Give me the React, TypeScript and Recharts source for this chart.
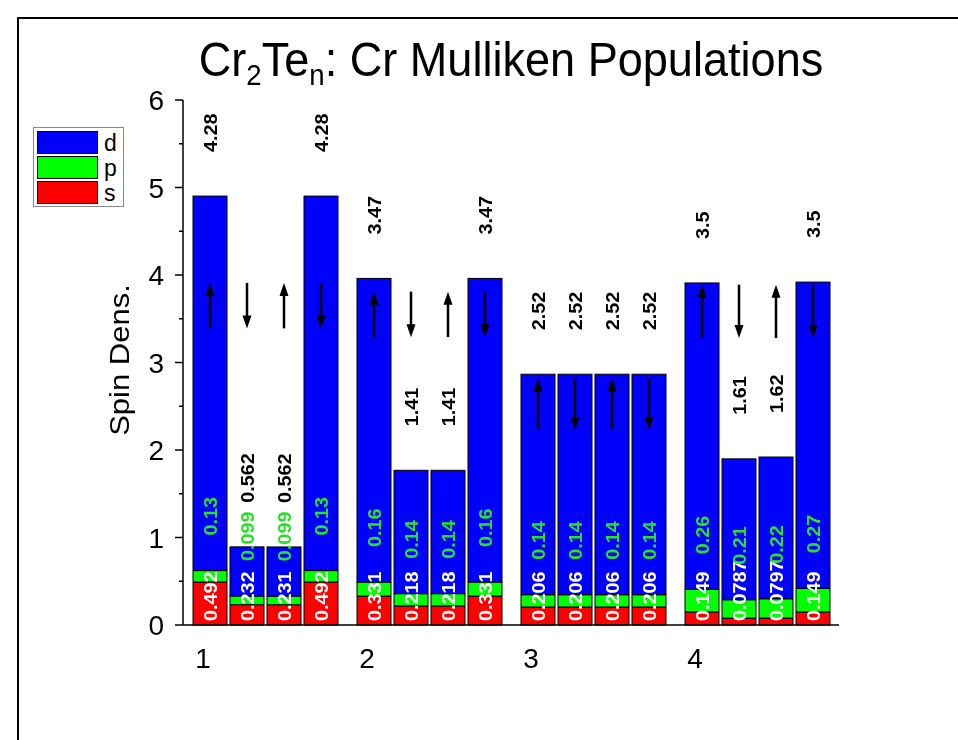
import React from "react";
import { BarChart, Bar, XAxis, YAxis } from "recharts";

// cluster size n
const groups = ["1", "2", "3", "4"];

// Mulliken populations of the 4 Cr sites, per cluster
const sPop = [
  [0.492, 0.232, 0.231, 0.492],
  [0.331, 0.218, 0.218, 0.331],
  [0.206, 0.206, 0.206, 0.206],
  [0.149, 0.0787, 0.0797, 0.149],
];
const pPop = [
  [0.13, 0.099, 0.099, 0.13],
  [0.16, 0.14, 0.14, 0.16],
  [0.14, 0.14, 0.14, 0.14],
  [0.26, 0.21, 0.22, 0.27],
];
const dPop = [
  [4.28, 0.562, 0.562, 4.28],
  [3.47, 1.41, 1.41, 3.47],
  [2.52, 2.52, 2.52, 2.52],
  [3.5, 1.61, 1.62, 3.5],
];

// spin arrows: direction per site, vertical extent per cluster (data units)
const spin = ["up", "down", "up", "down"];
const arrowHi = [3.91, 3.81, 2.82, 3.89];
const arrowLo = [3.39, 3.29, 2.23, 3.28];

const yTicks = [0, 0.5, 1, 1.5, 2, 2.5, 3, 3.5, 4, 4.5, 5, 5.5, 6];

const data = groups.map((g, gi) => {
  const row: any = { group: g, arrowHi: arrowHi[gi], arrowLo: arrowLo[gi] };
  for (let i = 0; i < 4; i++) {
    row[`s${i}`] = sPop[gi][i];
    row[`p${i}`] = pPop[gi][i];
    row[`d${i}`] = dPop[gi][i];
  }
  return row;
});

const FONT = '"Liberation Sans", Arial, sans-serif';
const BLUE = "#0000ff";
const GREEN = "#00ff00";
const RED = "#ff0000";

const lbl = {
  fontFamily: FONT,
  fontSize: 18,
  fontWeight: 700,
} as const;

// top segment draws itself plus all value labels and the spin arrow
const makeDShape = (pos: number) => (props: any) => {
  const { x, y, width, height, payload } = props;
  const s = payload[`s${pos}`];
  const p = payload[`p${pos}`];
  const d = payload[`d${pos}`];
  const k = height / d;
  const pTop = y + height;
  const zero = pTop + (s + p) * k;
  const cx = x + width / 2;
  const tx = cx + 6.5;
  const up = spin[pos] === "up";
  const hi = zero - payload.arrowHi * k;
  const lo = zero - payload.arrowLo * k;
  const tip = up ? hi : lo;
  const tail = up ? lo : hi;
  const dir = up ? 1 : -1;
  const rot = "rotate(-90) scale(1.1,1)";
  return (
    <g>
      <rect x={x} y={y} width={width} height={height} fill={BLUE} stroke="#000" strokeWidth={1} />
      <text transform={`translate(${tx},${zero - 4}) ${rot}`} fill="#fff" {...lbl}>
        {String(s)}
      </text>
      <text transform={`translate(${tx},${pTop - 35}) ${rot}`} fill="#2be02b" {...lbl}>
        {String(p)}
      </text>
      <text transform={`translate(${tx},${y - 44}) ${rot}`} fill="#000" {...lbl}>
        {String(d)}
      </text>
      <line x1={cx} x2={cx} y1={tail} y2={tip + dir * 10} stroke="#000" strokeWidth={2.5} />
      <polygon
        points={`${cx},${tip} ${cx - 4.5},${tip + dir * 13} ${cx + 4.5},${tip + dir * 13}`}
        fill="#000"
      />
    </g>
  );
};

const YTick = (props: any) => {
  const { x, y, payload } = props;
  const major = Number.isInteger(payload.value);
  return (
    <g>
      <line x1={x} x2={x - (major ? 8 : 4)} y1={y} y2={y} stroke="#000" strokeWidth={1.5} />
      {major && (
        <text x={x - 19} y={y} dy={10} textAnchor="end" fontFamily={FONT} fontSize={28} fill="#000">
          {payload.value}
        </text>
      )}
    </g>
  );
};

const XTick = (props: any) => {
  const { x, y, payload } = props;
  return (
    <text x={x - 62} y={y} dy={43} textAnchor="middle" fontFamily={FONT} fontSize={28} fill="#000">
      {payload.value}
    </text>
  );
};

const legendItems = [
  { key: "d", color: BLUE },
  { key: "p", color: GREEN },
  { key: "s", color: RED },
];

export default function App() {
  const bars: React.ReactNode[] = [];
  for (let i = 0; i < 4; i++) {
    bars.push(
      <Bar key={`s${i}`} dataKey={`s${i}`} stackId={`c${i}`} fill={RED} stroke="#000" strokeWidth={1} isAnimationActive={false} />,
      <Bar key={`p${i}`} dataKey={`p${i}`} stackId={`c${i}`} fill={GREEN} stroke="#000" strokeWidth={1} isAnimationActive={false} />,
      <Bar key={`d${i}`} dataKey={`d${i}`} stackId={`c${i}`} fill={BLUE} shape={makeDShape(i)} isAnimationActive={false} />
    );
  }

  return (
    <div style={{ position: "relative", width: 942, height: 724, background: "#fff", fontFamily: FONT }}>
      <div
        style={{
          position: "fixed",
          left: 17,
          top: 17,
          width: 2000,
          height: 2000,
          borderTop: "2px solid #000",
          borderLeft: "2px solid #000",
        }}
      />
      <div
        style={{
          position: "absolute",
          left: 113,
          width: 780,
          top: 27,
          textAlign: "center",
          fontSize: 49,
          lineHeight: "49px",
          color: "#000",
          whiteSpace: "nowrap",
          transform: "scaleX(0.92)",
        }}
      >
        Cr<sub style={{ fontSize: 30, verticalAlign: -9, lineHeight: 0 }}>2</sub>Te
        <sub style={{ fontSize: 30, verticalAlign: -9, lineHeight: 0 }}>n</sub>: Cr Mulliken Populations
      </div>
      <div
        style={{
          position: "absolute",
          left: 112,
          top: 352,
          transform: "translate(-50%, -50%) rotate(-90deg) scale(1, 0.92)",
          fontSize: 31,
          whiteSpace: "nowrap",
          color: "#000",
        }}
      >
        Spin Dens.
      </div>
      <BarChart
        width={942}
        height={724}
        data={data}
        margin={{ top: 92, right: 111, left: 115, bottom: 77 }}
        barSize={34}
        barGap={3}
        style={{ position: "absolute", left: 0, top: 0 }}
      >
        <XAxis
          dataKey="group"
          tick={<XTick />}
          tickLine={false}
          tickSize={0}
          tickMargin={0}
          interval={0}
          height={30}
          axisLine={{ stroke: "#000", strokeWidth: 1.5 }}
        />
        <YAxis
          domain={[0, 6]}
          ticks={yTicks}
          interval={0}
          tick={<YTick />}
          tickLine={false}
          tickSize={0}
          tickMargin={0}
          width={60}
          axisLine={{ stroke: "#000", strokeWidth: 1.5 }}
        />
        {bars}
      </BarChart>
      <div
        style={{
          position: "absolute",
          left: 25,
          top: 119,
          width: 84,
          border: "1.5px solid #888",
          background: "#fff",
          padding: "2px 2px 1px 3px",
        }}
      >
        {legendItems.map((it) => (
          <div key={it.key} style={{ display: "flex", alignItems: "center", height: 25 }}>
            <div
              style={{
                width: 61,
                height: 23,
                background: it.color,
                border: "1px solid #000",
                boxSizing: "border-box",
              }}
            />
            <span style={{ fontSize: 23, marginLeft: 6, lineHeight: "22px" }}>{it.key}</span>
          </div>
        ))}
      </div>
    </div>
  );
}
